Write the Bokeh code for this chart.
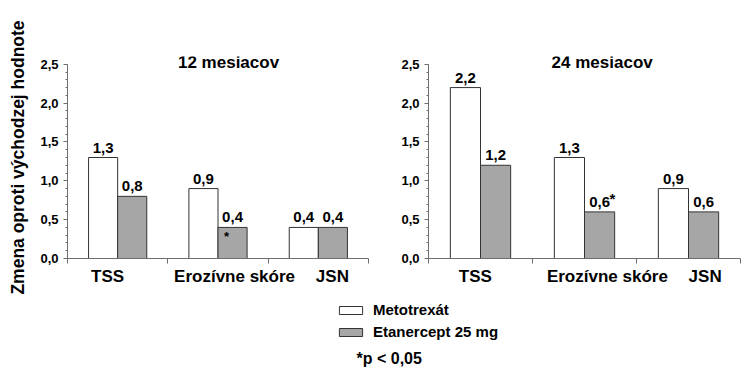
from bokeh.plotting import figure
from bokeh.layouts import column, row
from bokeh.models import (ColumnDataSource, FixedTicker, SingleIntervalTicker,
                          CustomJSTickFormatter, Range1d, Label, Legend, LegendItem)
from bokeh.core.properties import value
from bokeh.embed import file_html
from bokeh.resources import INLINE

# ---------------- data ----------------
categories = ["TSS", "Erozívne skóre", "JSN"]
panel_titles = ["12 mesiacov", "24 mesiacov"]
series_names = ["Metotrexát", "Etanercept 25 mg"]
mtx_12 = [1.3, 0.9, 0.4]
eta_12 = [0.8, 0.4, 0.4]
mtx_24 = [2.2, 1.3, 0.9]
eta_24 = [1.2, 0.6, 0.6]
sig_12 = [False, True, False]
sig_24 = [False, True, False]
y_max = 2.5
y_label = "Zmena oproti východzej hodnote"
footnote = "*p < 0,05"

# ---------------- style ----------------
FONT = "Liberation Sans"
WHITE = "#ffffff"
GRAY = "#a6a6a6"
AXIS = "#6e6e6e"
BAR_LINE = "#333333"
BAR_W = 0.29
Y_TOP = 2.6  # frame headroom above the last tick for the panel title
LBL_DY = -5  # lift value labels above the bar tops


def fmt(v):
    return f"{v:.1f}".replace(".", ",")


def make_panel(title, mtx, eta, sig, width, borders, label_shift, title_shift,
               star_inside, show_ylabel):
    bl, br, bt, bb = borders
    n = len(categories)
    p = figure(width=width, height=298, output_backend="svg", toolbar_location=None,
               x_range=Range1d(0, n), y_range=Range1d(0, Y_TOP),
               min_border_left=bl, min_border_right=br,
               min_border_top=bt, min_border_bottom=bb)
    p.outline_line_color = None
    p.grid.visible = False

    idx = list(range(n))
    xm = [i + 0.5 - BAR_W / 2 for i in idx]
    xe = [i + 0.5 + BAR_W / 2 for i in idx]
    src = ColumnDataSource(dict(xm=xm, xe=xe, mtx=mtx, eta=eta,
                                lm=[fmt(v) for v in mtx], le=[fmt(v) for v in eta]))
    p.vbar(x="xm", top="mtx", bottom=0, width=BAR_W, source=src,
           fill_color=WHITE, line_color=BAR_LINE, line_width=1)
    p.vbar(x="xe", top="eta", bottom=0, width=BAR_W, source=src,
           fill_color=GRAY, line_color=BAR_LINE, line_width=1)

    txt = dict(text_font=value(FONT), text_font_style="bold", text_font_size="15px",
               text_align="center", text_baseline="bottom", y_offset=LBL_DY,
               text_color="black")
    p.text(x="xm", y="mtx", text="lm", source=src, **txt)
    p.text(x="xe", y="eta", text="le", source=src, **txt)

    sx = [x for x, s in zip(xe, sig) if s]
    sy = [v for v, s in zip(eta, sig) if s]
    ssrc = ColumnDataSource(dict(x=sx, y=sy, t=["*"] * len(sx)))
    if star_inside:
        p.text(x="x", y="y", text="t", source=ssrc, text_font=value(FONT),
               text_font_style="bold", text_font_size="13px", text_align="center",
               text_baseline="top", x_offset=-6, y_offset=2, text_color="black")
    else:
        p.text(x="x", y="y", text="t", source=ssrc, text_font=value(FONT),
               text_font_style="bold", text_font_size="15px", text_align="left",
               text_baseline="bottom", x_offset=10, y_offset=LBL_DY, text_color="black")

    # y axis
    ya = p.yaxis[0]
    ya.bounds = (0, y_max)
    ya.ticker = SingleIntervalTicker(interval=0.5, num_minor_ticks=5)
    ya.formatter = CustomJSTickFormatter(code="return tick.toFixed(1).replace('.', ',');")
    ya.axis_line_color = AXIS
    ya.major_tick_line_color = AXIS
    ya.minor_tick_line_color = AXIS
    ya.major_tick_out = 4
    ya.major_tick_in = 0
    ya.minor_tick_out = 2
    ya.minor_tick_in = 0
    ya.major_label_standoff = 5
    ya.major_label_text_font = FONT
    ya.major_label_text_font_style = "bold"
    ya.major_label_text_font_size = "13px"
    ya.major_label_text_color = "black"
    if show_ylabel:
        ya.axis_label = y_label
        ya.axis_label_text_font = FONT
        ya.axis_label_text_font_style = "bold"
        ya.axis_label_text_font_size = "17.5px"
        ya.axis_label_text_color = "black"
        ya.axis_label_standoff = 9

    # x axis
    xa = p.xaxis[0]
    xa.ticker = FixedTicker(ticks=[i + 0.5 + s for i, s in zip(idx, label_shift)],
                            minor_ticks=list(range(n + 1)))
    xa.formatter = CustomJSTickFormatter(args=dict(names=categories),
                                         code="return names[Math.floor(tick)];")
    xa.axis_line_color = AXIS
    xa.major_tick_line_color = None
    xa.major_tick_out = 0
    xa.major_tick_in = 0
    xa.minor_tick_line_color = AXIS
    xa.minor_tick_out = 5
    xa.minor_tick_in = 0
    xa.major_label_standoff = 3
    xa.major_label_text_font = FONT
    xa.major_label_text_font_style = "bold"
    xa.major_label_text_font_size = "17px"
    xa.major_label_text_color = "black"

    p.add_layout(Label(x=n / 2 + title_shift, y=y_max, y_offset=1.5, text=title,
                       text_align="center", text_baseline="middle",
                       text_font=FONT, text_font_style="bold", text_font_size="17px",
                       text_color="black"))
    return p


p1 = make_panel(panel_titles[0], mtx_12, eta_12, sig_12, 370, (67, 2, 50, 40),
                [-0.10, 0.165, 0.14], 0.105, True, True)
p2 = make_panel(panel_titles[1], mtx_24, eta_24, sig_24, 376, (58, 6, 56, 40),
                [-0.05, 0.22, 0.16], 0.17, False, False)

# legend strip
p3 = figure(width=746, height=78, output_backend="svg", toolbar_location=None,
            x_range=Range1d(0, 746), y_range=Range1d(0, 78), min_border=0,
            x_axis_location=None, y_axis_location=None)
p3.outline_line_color = None
p3.grid.visible = False
# hidden proxies carrying the series styles for the legend swatches
r1 = p3.vbar(x=list(range(len(mtx_12))), top=mtx_12, width=BAR_W,
             fill_color=WHITE, line_color=BAR_LINE, visible=False)
r2 = p3.vbar(x=list(range(len(eta_12))), top=eta_12, width=BAR_W,
             fill_color=GRAY, line_color=BAR_LINE, visible=False)
legend = Legend(items=[LegendItem(label=series_names[0], renderers=[r1]),
                       LegendItem(label=series_names[1], renderers=[r2])],
                location=(336, 36), orientation="vertical",
                glyph_width=29, glyph_height=10, label_standoff=8, spacing=5,
                padding=0, margin=0, border_line_color=None,
                background_fill_alpha=0, label_text_font=FONT,
                label_text_font_style="bold", label_text_font_size="15px",
                label_text_color="black", label_height=17)
p3.add_layout(legend)
p3.add_layout(Label(x=356, y=18, text=footnote, text_align="left",
                    text_baseline="middle", text_font=FONT, text_font_style="bold",
                    text_font_size="16px", text_color="black"))

layout = column(row(p1, p2, spacing=0), p3, spacing=0)
open("out.html", "w").write(file_html(layout, INLINE))
